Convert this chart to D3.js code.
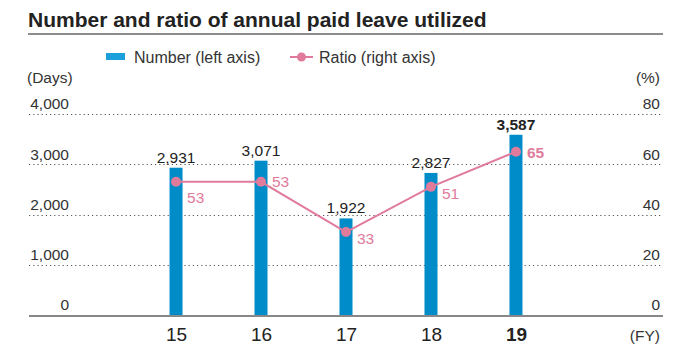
<!DOCTYPE html>
<html>
<head>
<meta charset="utf-8">
<script src="https://cdn.jsdelivr.net/npm/d3@7"></script>
<style>
  html, body { margin: 0; padding: 0; background: #fff; }
  svg { display: block; font-family: "Liberation Sans", Arial, sans-serif; }
</style>
</head>
<body>
<svg id="chart" width="700" height="347"></svg>
<script>
// Fiscal years and values
const years = ["15", "16", "17", "18", "19"];
const days = [2931, 3071, 1922, 2827, 3587];
const ratio = [53, 53, 33, 51, 65];
const leftTicks = [0, 1000, 2000, 3000, 4000];
const rightTicks = [0, 20, 40, 60, 80];

// Placement of ratio labels relative to their markers
const ratioLabelDy = [21, 5, 12, 12, 6];

const svg = d3.select("#chart");
const plotLeft = 29, plotRight = 663, plotTop = 114, plotBottom = 315;
const barColor = "#008bc9";
const pink = "#e07b9b";
const lastIdx = years.length - 1;
const labelSize = 15.5;

// Title with rule underneath
svg.append("text")
  .attr("x", 28).attr("y", 27)
  .attr("font-size", 21).attr("font-weight", "bold").attr("fill", "#222")
  .text("Number and ratio of annual paid leave utilized");
svg.append("line")
  .attr("x1", 28).attr("x2", plotRight).attr("y1", 34).attr("y2", 34)
  .attr("stroke", "#666").attr("stroke-width", 1.5);

// Legend
const lg = svg.append("g");
lg.append("rect").attr("x", 106).attr("y", 53).attr("width", 19).attr("height", 7).attr("fill", "#1ba0dc");
lg.append("text").attr("x", 134).attr("y", 63).attr("font-size", 16).attr("fill", "#333").text("Number (left axis)");
lg.append("line").attr("x1", 290).attr("x2", 313).attr("y1", 57).attr("y2", 57).attr("stroke", pink).attr("stroke-width", 2);
lg.append("circle").attr("cx", 301.5).attr("cy", 57).attr("r", 4.5).attr("fill", pink);
lg.append("text").attr("x", 319).attr("y", 63).attr("font-size", 16).attr("fill", "#333").text("Ratio (right axis)");

// Axis unit labels
svg.append("text").attr("x", 27).attr("y", 83).attr("font-size", labelSize).attr("fill", "#333").text("(Days)");
svg.append("text").attr("x", 660).attr("y", 83).attr("font-size", labelSize).attr("fill", "#333")
  .attr("text-anchor", "end").text("(%)");

// Scales
const x = d3.scalePoint().domain(years).range([plotLeft, plotRight]).padding(1.73);
const yL = d3.scaleLinear().domain([0, 4000]).range([plotBottom, plotTop]);
const yR = d3.scaleLinear().domain([0, 80]).range([plotBottom, plotTop]);

// Dotted gridlines
svg.append("g").selectAll("line").data(leftTicks.filter(d => d > 0)).join("line")
  .attr("x1", plotLeft).attr("x2", plotRight)
  .attr("y1", d => Math.round(yL(d)) + 0.5).attr("y2", d => Math.round(yL(d)) + 0.5)
  .attr("stroke", "#555").attr("stroke-width", 1).attr("stroke-dasharray", "1.2,3");

// Left axis tick labels
const leftAxis = d3.axisLeft(yL).tickValues(leftTicks).tickSize(0).tickPadding(0).tickFormat(d3.format(","));
const gL = svg.append("g").attr("transform", "translate(69,-10)").call(leftAxis);
gL.select(".domain").remove();
gL.selectAll("text").attr("font-size", labelSize).attr("fill", "#333").attr("font-family", "Liberation Sans, Arial, sans-serif");

// Right axis tick labels
const rightAxis = d3.axisLeft(yR).tickValues(rightTicks).tickSize(0).tickPadding(0);
const gR = svg.append("g").attr("transform", "translate(660,-10)").call(rightAxis);
gR.select(".domain").remove();
gR.selectAll("text").attr("font-size", labelSize).attr("fill", "#333").attr("font-family", "Liberation Sans, Arial, sans-serif");

// Bars
const barW = 13;
svg.append("g").selectAll("rect").data(years).join("rect")
  .attr("x", d => x(d) - barW / 2)
  .attr("width", barW)
  .attr("y", (d, i) => yL(days[i]))
  .attr("height", (d, i) => plotBottom - yL(days[i]))
  .attr("fill", barColor);

// Baseline
svg.append("line")
  .attr("x1", plotLeft).attr("x2", plotRight).attr("y1", plotBottom + 1).attr("y2", plotBottom + 1)
  .attr("stroke", "#888").attr("stroke-width", 2);

// Bar value labels
svg.append("g").selectAll("text").data(years).join("text")
  .attr("x", d => x(d))
  .attr("y", (d, i) => yL(days[i]) - 5)
  .attr("text-anchor", "middle")
  .attr("font-size", labelSize)
  .attr("font-weight", (d, i) => i === lastIdx ? "bold" : "normal")
  .attr("fill", "#222")
  .text((d, i) => d3.format(",")(days[i]));

// Ratio line and markers
const line = d3.line().x(d => x(d)).y((d, i) => yR(ratio[i]));
svg.append("path").datum(years).attr("d", line)
  .attr("fill", "none").attr("stroke", pink).attr("stroke-width", 2);
svg.append("g").selectAll("circle").data(years).join("circle")
  .attr("cx", d => x(d)).attr("cy", (d, i) => yR(ratio[i])).attr("r", 5)
  .attr("fill", pink);

// Ratio labels
svg.append("g").selectAll("text").data(years).join("text")
  .attr("x", d => x(d) + 11)
  .attr("y", (d, i) => yR(ratio[i]) + ratioLabelDy[i])
  .attr("font-size", labelSize)
  .attr("font-weight", (d, i) => i === lastIdx ? "bold" : "normal")
  .attr("fill", pink)
  .text((d, i) => ratio[i]);

// Year labels
const xAxis = d3.axisBottom(x).tickSize(0).tickPadding(0);
const gX = svg.append("g").attr("transform", `translate(0,${plotBottom + 26})`).call(xAxis);
gX.select(".domain").remove();
gX.selectAll("text")
  .attr("font-size", 19).attr("fill", "#222").attr("dy", 0)
  .attr("font-family", "Liberation Sans, Arial, sans-serif")
  .attr("font-weight", (d, i) => i === lastIdx ? "bold" : "normal");

svg.append("text").attr("x", 660).attr("y", plotBottom + 26).attr("font-size", labelSize).attr("fill", "#333")
  .attr("text-anchor", "end").text("(FY)");
</script>
</body>
</html>
